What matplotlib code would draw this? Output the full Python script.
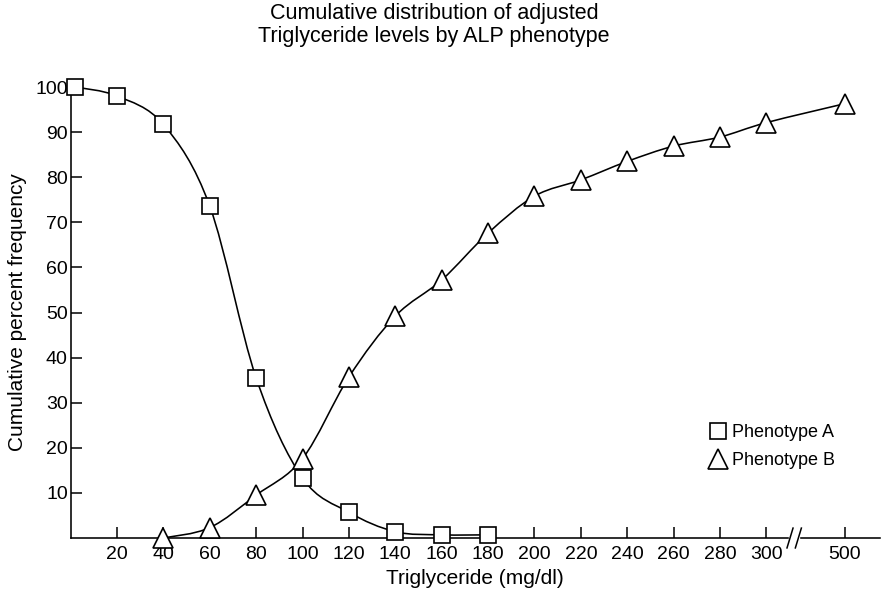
import numpy as np
import matplotlib
matplotlib.use("Agg")
import matplotlib.pyplot as plt
from matplotlib.path import Path
from matplotlib.patches import PathPatch
from matplotlib.lines import Line2D
import matplotlib.transforms as mtransforms

plt.rcParams['font.family'] = ['Liberation Sans', 'DejaVu Sans']

# ---- data ----
a_x = [2, 20, 40, 60, 80, 100, 120, 140, 160, 180]
a_y = [100, 98, 91.7, 73.6, 35.5, 13.3, 5.7, 1.4, 0.7, 0.7]
b_x = [40, 60, 80, 100, 120, 140, 160, 180, 200, 220, 240, 260, 280, 300, 500]
b_y = [0, 2.3, 9.5, 17.6, 35.7, 49.2, 57.2, 67.6, 75.8, 79.4, 83.5, 86.9, 88.9, 92.1, 96.3]
xtick_vals = [20, 40, 60, 80, 100, 120, 140, 160, 180, 200, 220, 240, 260, 280, 300, 500]
ytick_vals = [10, 20, 30, 40, 50, 60, 70, 80, 90, 100]

BREAK_POS = 312.0
POS_500 = 333.8


def xpos(v):
    v = np.asarray(v, dtype=float)
    return np.where(v <= 300, v, 300 + (v - 300) * (POS_500 - 300) / 200.0)


def smooth_path(xs, ys):
    p = np.column_stack([xs, ys])
    n = len(p)
    verts = [p[0]]
    codes = [Path.MOVETO]
    for i in range(n - 1):
        p0 = p[i - 1] if i > 0 else p[i]
        p1 = p[i]
        p2 = p[i + 1]
        p3 = p[i + 2] if i + 2 < n else p[i + 1]
        c1 = p1 + (p2 - p0) / 6.0
        c2 = p2 - (p3 - p1) / 6.0
        verts += [c1, c2, p2]
        codes += [Path.CURVE4] * 3
    return Path(verts, codes)


fig = plt.figure(figsize=(8.83, 5.96), dpi=100)
ax = fig.add_axes([70.6 / 883, 1 - 538 / 596, (880 - 70.6) / 883, (538 - 87) / 596])
ax.set_xlim(0, 349)
ax.set_ylim(0, 100)

lw = 1.15
ax.add_patch(PathPatch(smooth_path(xpos(a_x), a_y), fill=False, lw=lw, ec='black', zorder=2, clip_on=False))
ax.add_patch(PathPatch(smooth_path(xpos(b_x), b_y), fill=False, lw=lw, ec='black', zorder=2, clip_on=False))

SQ_MS, TRI_MS = 12, 14
ax.plot(xpos(a_x), a_y, ls='none', marker='s', ms=SQ_MS, mfc='white', mec='black', mew=1.2, zorder=3, clip_on=False)
ax.plot(xpos(b_x), b_y, ls='none', marker='^', ms=TRI_MS, mfc='white', mec='black', mew=1.2, zorder=3, clip_on=False)

for s in ['top', 'right']:
    ax.spines[s].set_visible(False)
for s in ['left', 'bottom']:
    ax.spines[s].set_linewidth(1.15)

ax.set_xticks(xpos(xtick_vals))
ax.set_xticklabels([str(v) for v in xtick_vals])
ax.set_yticks(ytick_vals)
ax.set_yticklabels([str(v) for v in ytick_vals])
ax.tick_params(direction='in', length=8, width=1.1, labelsize=14)
ax.tick_params(axis='x', pad=6)
ax.tick_params(axis='y', pad=2)

# axis break
trans = mtransforms.blended_transform_factory(ax.transData, ax.transAxes)
ax.add_patch(plt.Rectangle((BREAK_POS - 2.2, -0.01), 4.4, 0.02, transform=trans,
                           color='white', zorder=5, clip_on=False))
for dx in (-1.8, 1.8):
    ax.add_line(Line2D([BREAK_POS + dx - 1.3, BREAK_POS + dx + 1.3], [-0.022, 0.022],
                       transform=trans, color='black', lw=1.1, zorder=6, clip_on=False))

ax.set_xlabel('Triglyceride (mg/dl)', fontsize=15, labelpad=4)
ax.set_ylabel('Cumulative percent frequency', fontsize=15, labelpad=6)
fig.text(434 / 883, 1 - 25 / 596, 'Cumulative distribution of adjusted\nTriglyceride levels by ALP phenotype',
         ha='center', va='center', fontsize=15.5, linespacing=1.1)

h1 = Line2D([], [], ls='none', marker='s', ms=SQ_MS, mfc='white', mec='black', mew=1.2)
h2 = Line2D([], [], ls='none', marker='^', ms=TRI_MS, mfc='white', mec='black', mew=1.2)
ax.legend([h1, h2], ['Phenotype A', 'Phenotype B'], loc='upper left',
          bbox_to_anchor=(709 / 883, 1 - 424 / 596), bbox_transform=fig.transFigure,
          frameon=False, fontsize=13, handlelength=1.0, handletextpad=0.25,
          borderpad=0, labelspacing=0.6, borderaxespad=0)

fig.savefig('out.png', dpi=100)
